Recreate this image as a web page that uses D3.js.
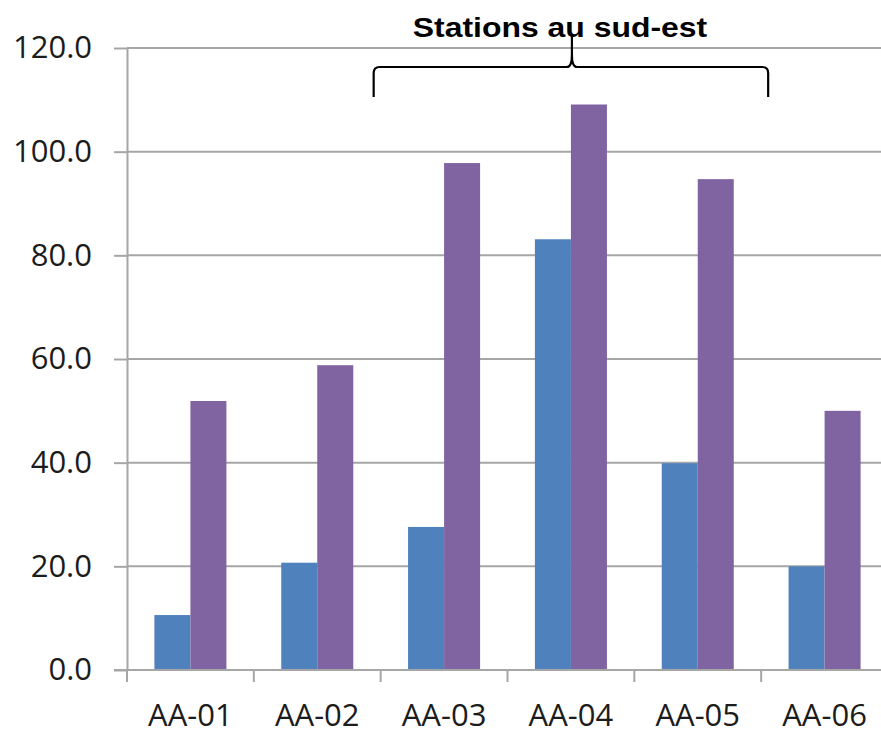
<!DOCTYPE html>
<html>
<head>
<meta charset="utf-8">
<script src="https://cdn.jsdelivr.net/npm/d3@7"></script>
<style>
  html, body { margin: 0; padding: 0; background: #fff; }
  svg { display: block; }
</style>
</head>
<body>
<svg id="chart" width="881" height="730"></svg>
<script>
// Stations and their two measured series
const stations = ["AA-01", "AA-02", "AA-03", "AA-04", "AA-05", "AA-06"];
const seriesNames = ["serie1", "serie2"];
const serie1 = [10.6, 20.7, 27.6, 83.1, 39.9, 20.0];
const serie2 = [51.9, 58.8, 97.8, 109.1, 94.7, 50.0];
const yTicks = [0, 20, 40, 60, 80, 100, 120];
const colors = ["#4F81BD", "#8064A2"];
const title = "Stations au sud-est";
const bracketStations = ["AA-03", "AA-05"];

const svg = d3.select("#chart");
const plotLeft = 127, plotRight = 888, plotTop = 48, plotBottom = 670;

const x0 = d3.scaleBand().domain(stations).range([plotLeft, plotRight]).padding(0);
const x1 = d3.scaleBand().domain(seriesNames).range([0, x0.bandwidth()])
  .paddingInner(0).paddingOuter(0.761);
const y = d3.scaleLinear().domain([0, 120]).range([plotBottom, plotTop]);

const gridColor = "#A6A6A6";
const textColor = "#1c1c1c";
const font = "'Open Sans', 'Liberation Sans', sans-serif";

// Horizontal gridlines
svg.append("g").selectAll("line").data(yTicks.slice(1)).join("line")
  .attr("x1", plotLeft).attr("x2", plotRight)
  .attr("y1", d => y(d)).attr("y2", d => y(d))
  .attr("stroke", gridColor).attr("stroke-width", 2);

// Y axis
const yAxis = svg.append("g").attr("transform", `translate(${plotLeft},0)`)
  .call(d3.axisLeft(y).tickValues(yTicks).tickFormat(d3.format(".1f"))
    .tickSize(13).tickSizeOuter(0).tickPadding(22));
yAxis.select(".domain").attr("stroke", gridColor).attr("stroke-width", 2);
yAxis.selectAll(".tick line").attr("stroke", gridColor).attr("stroke-width", 2);
yAxis.selectAll(".tick text").attr("fill", textColor)
  .style("font-family", font).style("font-size", "31px");

// Bars
const data = stations.map((s, i) => ({ station: s, values: [serie1[i], serie2[i]] }));
svg.append("g").selectAll("g").data(data).join("g")
  .attr("transform", d => `translate(${x0(d.station)},0)`)
  .selectAll("rect").data(d => d.values.map((v, k) => ({ key: seriesNames[k], v, k })))
  .join("rect")
  .attr("x", d => x1(d.key))
  .attr("width", x1.bandwidth())
  .attr("y", d => y(d.v))
  .attr("height", d => y(0) - y(d.v))
  .attr("fill", d => colors[d.k]);

// X axis line with tick marks between categories
const xAxis = svg.append("g");
xAxis.append("line")
  .attr("x1", plotLeft - 13).attr("x2", plotRight)
  .attr("y1", y(0)).attr("y2", y(0))
  .attr("stroke", gridColor).attr("stroke-width", 2);
const boundaries = stations.map(s => x0(s)).concat([x0(stations[stations.length - 1]) + x0.step()]);
xAxis.selectAll("line.tick").data(boundaries).join("line")
  .attr("class", "tick")
  .attr("x1", d => d).attr("x2", d => d)
  .attr("y1", y(0)).attr("y2", y(0) + 12)
  .attr("stroke", gridColor).attr("stroke-width", 2);
xAxis.selectAll("text").data(stations).join("text")
  .attr("x", d => x0(d) + x0.bandwidth() / 2)
  .attr("y", 726)
  .attr("text-anchor", "middle")
  .attr("fill", textColor)
  .style("font-family", font).style("font-size", "31px")
  .text(d => d);

// Curly bracket grouping the south-east stations
const bx0 = x0(bracketStations[0]) - 7;
const bx1 = x0(bracketStations[1]) + x0.step() + 7;
const bm = (bx0 + bx1) / 2 + 1;
const by = 67, bBot = 97, bTip = 35, r = 6;
const bracePath = [
  `M${bx0},${bBot}`,
  `L${bx0},${by + r}`,
  `Q${bx0},${by} ${bx0 + r},${by}`,
  `L${bm - 5},${by}`,
  `Q${bm},${by} ${bm},${by - 12}`,
  `L${bm},${bTip}`,
  `M${bm},${by - 12}`,
  `Q${bm},${by} ${bm + 5},${by}`,
  `L${bx1 - r},${by}`,
  `Q${bx1},${by} ${bx1},${by + r}`,
  `L${bx1},${bBot}`
].join(" ");
svg.append("path").attr("d", bracePath)
  .attr("fill", "none").attr("stroke", "#000").attr("stroke-width", 2.2);

// Title (slightly widened bold sans)
svg.append("text")
  .attr("transform", "translate(560,37) scale(1.14,1)")
  .attr("text-anchor", "middle")
  .attr("fill", "#000")
  .style("font-family", "'Liberation Sans', Arial, sans-serif")
  .style("font-weight", "bold").style("font-size", "28px")
  .text(title);
</script>
</body>
</html>
